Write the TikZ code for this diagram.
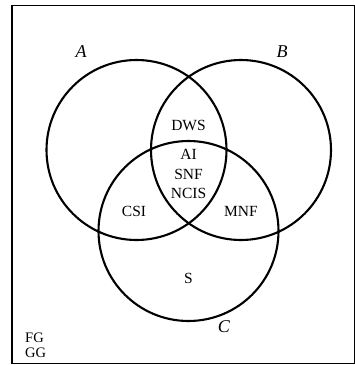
\documentclass[tikz,border=0pt]{standalone}
\usepackage{fontspec}
\setmainfont{Liberation Serif}
\begin{document}
\begin{tikzpicture}[x=1pt,y=-1pt,
  setcirc/.style={circle,draw,line width=2.1pt,minimum size=180pt,inner sep=0pt},
  lbl/.style={font=\fontsize{15.5}{19.5}\selectfont,inner sep=0pt,align=center},
  setname/.style={font=\fontsize{18}{20}\selectfont\itshape,inner sep=0pt}]
\useasboundingbox (0,0) rectangle (355,365);
\draw[line width=1.5pt] (12,5.5) rectangle (354.5,363.5);
\node[setcirc] (A) at (136.5,150) {};
\node[setcirc] (B) at (241,150) {};
\node[setcirc] (C) at (188.5,231) {};
\node[setname] (la) at (81,52) {A};
\node[setname] (lb) at (282,52) {B};
\node[setname] (lc) at (224,327) {C};
\node[lbl] (dws) at (188.5,125) {DWS};
\node[lbl] (mid) at (188.5,174) {AI\\SNF\\NCIS};
\node[lbl] (csi) at (134,211) {CSI};
\node[lbl] (mnf) at (241,211) {MNF};
\node[lbl] (s) at (188.5,278) {S};
\node[lbl,font=\fontsize{14.5}{15}\selectfont,align=left,anchor=south west] (fg) at (25,358) {FG\\GG};
\end{tikzpicture}
\end{document}
